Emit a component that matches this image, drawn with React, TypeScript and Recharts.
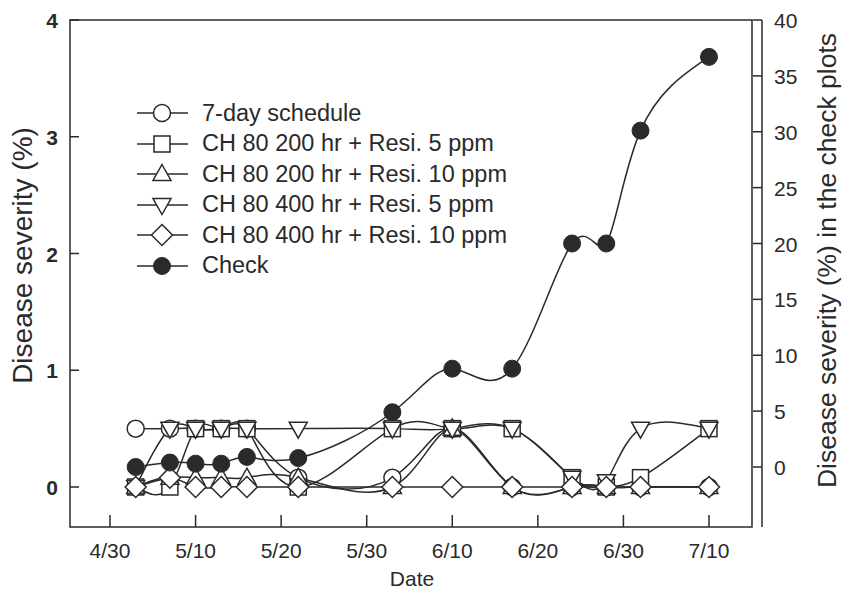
import React from "react";
import { LineChart, Line, XAxis, YAxis, ReferenceArea, Legend } from "recharts";

// sampling dates as day offsets from 4/30
const DAYS = [3, 7, 10, 13, 16, 22, 33, 40, 47, 54, 58, 62, 70];

const DATE_TICKS = [0, 10, 20, 30, 40, 50, 60, 70];
const DATE_LABELS = ["4/30", "5/10", "5/20", "5/30", "6/10", "6/20", "6/30", "7/10"];
const LEFT_TICKS = [0, 1, 2, 3, 4];
const RIGHT_TICKS = [0, 5, 10, 15, 20, 25, 30, 35, 40];

// disease severity (%) per treatment
const SEVEN_DAY = [0.5, 0.5, 0.5, 0.5, 0.5, 0.08, 0.08, 0.5, 0, 0, 0, 0, 0];
const CH200_5 = [0, 0, 0.5, 0.5, 0.5, 0, 0.5, 0.5, 0.5, 0.08, 0, 0.08, 0.5];
const CH200_10 = [0, 0.08, 0.08, 0.08, 0.08, 0.08, 0, 0.5, 0, 0, 0, 0, 0];
const CH400_5 = [0, 0.5, 0.5, 0.5, 0.5, 0.5, 0.5, 0.5, 0.5, 0.08, 0.05, 0.5, 0.5];
const CH400_10 = [0, 0.08, 0, 0, 0, 0, 0, 0, 0, 0, 0, 0, 0];
// check plots, right axis
const CHECK = [0, 0.4, 0.3, 0.3, 0.9, 0.8, 4.9, 8.8, 8.8, 20.0, 20.0, 30.1, 36.7];

const INK = "#2a2a2a";
const FONT = "Arial, 'Liberation Sans', Helvetica, sans-serif";

type Shape = "circle" | "square" | "triUp" | "triDown" | "diamond" | "filled";

const SERIES: { key: string; name: string; shape: Shape; axis: string }[] = [
  { key: "sevenDay", name: "7-day schedule", shape: "circle", axis: "left" },
  { key: "ch200_5", name: "CH 80 200 hr + Resi. 5 ppm", shape: "square", axis: "left" },
  { key: "ch200_10", name: "CH 80 200 hr + Resi. 10 ppm", shape: "triUp", axis: "left" },
  { key: "ch400_5", name: "CH 80 400 hr + Resi. 5 ppm", shape: "triDown", axis: "left" },
  { key: "ch400_10", name: "CH 80 400 hr + Resi. 10 ppm", shape: "diamond", axis: "left" },
  { key: "check", name: "Check", shape: "filled", axis: "right" },
];

const data = DAYS.map((day, i) => ({
  day,
  sevenDay: SEVEN_DAY[i],
  ch200_5: CH200_5[i],
  ch200_10: CH200_10[i],
  ch400_5: CH400_5[i],
  ch400_10: CH400_10[i],
  check: CHECK[i],
}));

// plot box: x 70..762 (frame ends at 752), y 20..527
const PX_PER_DAY = 8.557;
const X_MIN = -40 / PX_PER_DAY;
const X_MAX = 652 / PX_PER_DAY;
const X_FRAME = 642 / PX_PER_DAY;
const L_MIN = -40 / 116.75;
const R_MIN = -60 / 11.175;

function Marker({ cx, cy, shape }: { cx: number; cy: number; shape: Shape }) {
  const common = { fill: "#fff", stroke: INK, strokeWidth: 1.5 };
  switch (shape) {
    case "circle":
      return <circle cx={cx} cy={cy} r={8.5} {...common} />;
    case "square":
      return <rect x={cx - 8} y={cy - 8} width={16} height={16} {...common} />;
    case "triUp":
      return <polygon points={`${cx},${cy - 9.5} ${cx + 9},${cy + 6.5} ${cx - 9},${cy + 6.5}`} {...common} />;
    case "triDown":
      return <polygon points={`${cx},${cy + 9.5} ${cx + 9},${cy - 6.5} ${cx - 9},${cy - 6.5}`} {...common} />;
    case "diamond":
      return <polygon points={`${cx},${cy - 10.5} ${cx + 10.5},${cy} ${cx},${cy + 10.5} ${cx - 10.5},${cy}`} {...common} />;
    default:
      return <circle cx={cx} cy={cy} r={8.5} fill={INK} stroke={INK} strokeWidth={1} />;
  }
}

const XTick = (props: any) => {
  const { x, y, payload } = props;
  const i = DATE_TICKS.indexOf(payload.value);
  return (
    <g>
      <line x1={x} x2={x} y1={y} y2={y - 12} stroke={INK} strokeWidth={1.5} />
      <text x={x} y={y + 31} textAnchor="middle" fontSize={21} fill={INK} fontFamily={FONT}>
        {DATE_LABELS[i]}
      </text>
    </g>
  );
};

const LeftTick = (props: any) => {
  const { x, y, payload } = props;
  return (
    <g>
      <line x1={x} x2={x + 9} y1={y} y2={y} stroke={INK} strokeWidth={1.5} />
      <text x={x - 12} y={y + 8} textAnchor="end" fontSize={21} fontWeight="bold" fill={INK} fontFamily={FONT}>
        {payload.value}
      </text>
    </g>
  );
};

const RightTick = (props: any) => {
  const { x, y, payload } = props;
  return (
    <g>
      <line x1={x - 9} x2={x} y1={y} y2={y} stroke={INK} strokeWidth={1.5} />
      <text x={x + 12} y={y + 8} textAnchor="start" fontSize={21} fill={INK} fontFamily={FONT}>
        {payload.value}
      </text>
    </g>
  );
};

const renderLegend = () => (
  <div style={{ fontFamily: FONT, fontSize: 23.5, color: INK, textAlign: "left" }}>
    {SERIES.map((s) => (
      <div key={s.key} style={{ display: "flex", alignItems: "center", height: 30.5 }}>
        <svg width={68} height={24}>
          <line x1={3} x2={54} y1={12} y2={12} stroke={INK} strokeWidth={1.5} />
          <Marker cx={28} cy={12} shape={s.shape} />
        </svg>
        <span style={{ whiteSpace: "nowrap" }}>{s.name}</span>
      </div>
    ))}
  </div>
);

export default function App() {
  return (
    <div style={{ position: "absolute", left: 0, top: 0, background: "#fff" }}>
      <LineChart width={845} height={595} data={data} margin={{ top: 20, right: 0, bottom: 0, left: 10 }}>
        <ReferenceArea
          yAxisId="left"
          x1={X_MIN}
          x2={X_FRAME}
          y1={L_MIN}
          y2={4}
          fill="none"
          stroke={INK}
          strokeWidth={1.5}
          ifOverflow="visible"
        />
        <XAxis
          dataKey="day"
          type="number"
          domain={[X_MIN, X_MAX]}
          ticks={DATE_TICKS}
          allowDataOverflow
          axisLine={false}
          tickLine={false}
          tickSize={0}
          tickMargin={0}
          tick={<XTick />}
          height={68}
          interval={0}
          label={{ value: "Date", position: "insideBottom", offset: 9, dx: -4, fontSize: 21, fill: INK, fontFamily: FONT }}
        />
        <YAxis
          yAxisId="left"
          domain={[L_MIN, 4]}
          ticks={LEFT_TICKS}
          allowDataOverflow
          axisLine={false}
          tickLine={false}
          tickSize={0}
          tickMargin={0}
          tick={<LeftTick />}
          width={60}
          interval={0}
          label={{
            value: "Disease severity (%)",
            angle: -90,
            position: "center",
            dx: -18,
            dy: -18,
            fontSize: 28,
            fill: INK,
            fontFamily: FONT,
          }}
        />
        <YAxis
          yAxisId="right"
          orientation="right"
          domain={[R_MIN, 40]}
          ticks={RIGHT_TICKS}
          allowDataOverflow
          axisLine={{ stroke: INK, strokeWidth: 1.5 }}
          tickLine={false}
          tickSize={0}
          tickMargin={0}
          tick={<RightTick />}
          width={83}
          interval={0}
          label={{
            value: "Disease severity (%) in the check plots",
            angle: -90,
            position: "center",
            dx: 23,
            dy: -13,
            fontSize: 26.5,
            fill: INK,
            fontFamily: FONT,
          }}
        />
        <Legend
          content={renderLegend}
          layout="horizontal"
          verticalAlign="middle"
          align="center"
          wrapperStyle={{ position: "absolute", left: 134, top: 98, width: 440, height: 190 }}
        />
        {SERIES.map((s) => (
          <Line
            key={s.key}
            yAxisId={s.axis}
            dataKey={s.key}
            name={s.name}
            type="natural"
            stroke={INK}
            strokeWidth={1.5}
            isAnimationActive={false}
            dot={(p: any) => <Marker key={`${s.key}-${p.index}`} cx={p.cx} cy={p.cy} shape={s.shape} />}
            activeDot={false}
          />
        ))}
      </LineChart>
    </div>
  );
}
